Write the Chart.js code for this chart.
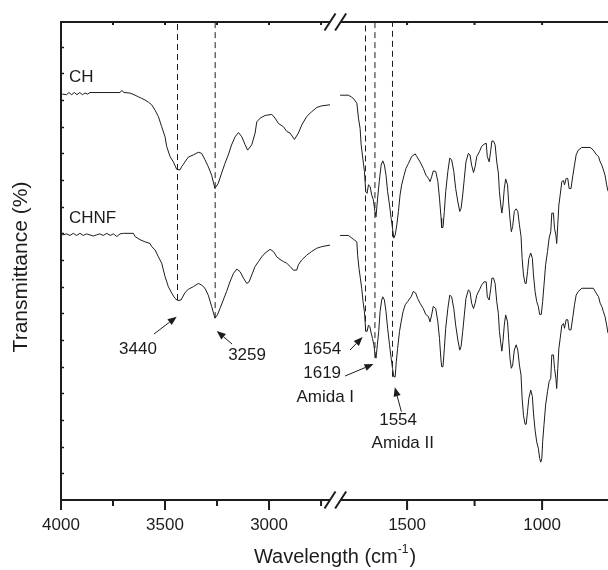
<!DOCTYPE html>
<html lang="pt-br">
<head>
<meta charset="UTF-8">
<title>FTIR - CH e CHNF</title>
<style>
    body { margin: 0; background: #fff; }
    #grafico { display: block; }
</style>
</head>
<body>
<canvas id="grafico" width="608" height="570"></canvas>
<script src="https://cdn.jsdelivr.net/npm/chart.js"></script>
<script>

// ---- Espectro CH (trecho 4000 - 2700 cm-1) ----
const chEsqNumOnda = [3994, 3973, 3962, 3949, 3936, 3923, 3910, 3897, 3885, 3872,
    3861, 3716, 3708, 3697, 3668, 3644, 3628, 3612, 3596, 3580,
    3564, 3548, 3532, 3516, 3500, 3492, 3476, 3460, 3444, 3428,
    3420, 3404, 3388, 3364, 3340, 3324, 3308, 3292, 3276, 3260,
    3244, 3228, 3212, 3196, 3180, 3163, 3147, 3131, 3115, 3103,
    3083, 3067, 3059, 3043, 3019, 2987, 2971, 2955, 2931, 2915,
    2899, 2878, 2859, 2843, 2819, 2795, 2771, 2747, 2707];
const chEsqTransm = [76.1, 76.0, 76.4, 76.0, 76.4, 76.0, 76.4, 76.0, 76.3, 76.1,
    76.4, 76.4, 76.8, 76.4, 76.3, 75.9, 75.6, 75.3, 75.0, 74.6,
    74.1, 73.1, 71.9, 70.0, 68.1, 66.3, 64.4, 63.4, 62.0, 61.9,
    62.5, 63.4, 64.3, 64.7, 65.2, 65.0, 63.8, 62.5, 60.9, 58.4,
    59.4, 61.3, 63.1, 64.7, 66.6, 68.1, 68.9, 68.1, 66.6, 65.6,
    66.6, 68.8, 70.9, 71.6, 72.1, 72.3, 71.6, 70.6, 70.0, 69.1,
    68.8, 67.6, 68.8, 70.3, 71.9, 72.8, 73.6, 73.9, 74.1];

// ---- Espectro CH (trecho 1780 - 756 cm-1) ----
const chDirNumOnda = [1748, 1717, 1707, 1699, 1686, 1680, 1674, 1670, 1664, 1658,
    1653, 1648, 1643, 1637, 1631, 1625, 1619, 1615, 1609, 1603,
    1596, 1590, 1584, 1578, 1572, 1565, 1559, 1553, 1549, 1544,
    1538, 1532, 1526, 1520, 1511, 1504, 1495, 1483, 1470, 1464,
    1452, 1440, 1430, 1421, 1415, 1409, 1403, 1394, 1386, 1380,
    1374, 1372, 1367, 1362, 1357, 1349, 1342, 1335, 1327, 1320,
    1312, 1305, 1300, 1294, 1288, 1282, 1273,
    1267, 1261, 1254, 1248, 1242, 1232, 1224, 1215, 1207, 1203,
    1196, 1190, 1186, 1180, 1174, 1168, 1162, 1158, 1153, 1149,
    1145, 1140, 1135, 1128, 1124, 1119, 1114, 1109, 1103, 1096,
    1090, 1084, 1078, 1074, 1069, 1063, 1059, 1054, 1049, 1042,
    1036, 1032, 1026, 1020, 1014, 1009, 1003, 998, 993, 987,
    980, 974, 968, 964, 958, 954, 949, 946, 942, 938,
    933, 927, 921, 917, 911, 905, 900, 893, 886, 880,
    874, 866, 853, 822, 810, 800, 791, 785, 779, 773,
    767, 761, 756];
const chDirTransm = [75.9, 75.9, 75.6, 75.3, 74.4, 71.6, 69.7, 66.6, 64.1, 61.6,
    57.8, 57.5, 59.1, 58.8, 57.2, 56.3, 54.1, 53.1, 56.6, 59.7,
    62.8, 63.6, 62.8, 60.9, 57.8, 55.3, 52.8, 50.6, 49.1, 49.7,
    51.6, 54.1, 57.2, 59.1, 60.9, 62.2, 63.1, 64.4, 64.9, 64.4,
    63.4, 62.2, 60.9, 60.3, 59.7, 60.6, 61.7, 61.6, 59.7, 56.6,
    52.8, 51.1, 51.1, 54.1, 57.8, 61.6, 64.1, 63.8, 61.6, 58.4,
    55.9, 54.1, 54.7, 57.2, 60.3, 63.4, 65.0,
    64.7, 62.8, 61.4, 62.5, 64.4, 65.3, 66.3, 66.7, 66.9, 64.4,
    63.4, 65.6, 67.3, 67.3, 66.6, 63.4, 61.3, 57.8, 55.3, 53.8,
    55.3, 58.4, 60.2, 59.1, 55.9, 52.8, 50.3, 51.3, 54.1, 54.6,
    54.1, 51.6, 49.4, 45.3, 42.2, 40.6, 40.6, 42.8, 45.3, 46.3,
    45.3, 42.2, 39.1, 37.2, 36.3, 34.8, 34.8, 37.2, 40.3, 44.1,
    46.6, 49.1, 50.3, 53.8, 53.8, 50.9, 49.7, 48.1, 51.6, 55.3,
    57.2, 59.7, 59.9, 59.1, 60.3, 60.3, 58.4, 58.4, 60.9, 62.8,
    64.7, 65.6, 66.1, 66.1, 65.6, 64.8, 64.4, 63.4, 62.8, 61.9,
    60.9, 59.1, 57.9];

// ---- Espectro CHNF (trecho 4000 - 2700 cm-1) ----
const chnfEsqNumOnda = [3994, 3973, 3957, 3941, 3925, 3909, 3893, 3877, 3861, 3845,
    3829, 3813, 3797, 3780, 3764, 3748, 3732, 3716, 3700, 3652,
    3644, 3620, 3596, 3572, 3564, 3548, 3532, 3516, 3500, 3484,
    3468, 3452, 3439, 3423, 3404, 3388, 3364, 3340, 3324, 3308,
    3292, 3276, 3260, 3248, 3236, 3220, 3204, 3188, 3171, 3155,
    3139, 3123, 3107, 3096, 3083, 3067, 3051, 3035, 3019, 2995,
    2979, 2963, 2947, 2931, 2915, 2899, 2883, 2867, 2859, 2843,
    2819, 2795, 2771, 2747, 2707];
const chnfEsqTransm = [49.7, 49.9, 49.6, 50.0, 49.6, 50.0, 49.6, 49.9, 49.7, 49.5,
    49.7, 49.9, 49.6, 50.0, 49.6, 49.9, 49.4, 49.9, 50.0, 50.0,
    49.4, 48.8, 48.4, 48.1, 47.5, 46.9, 45.6, 44.4, 41.9, 40.0,
    38.8, 37.8, 37.4, 37.5, 38.9, 39.5, 40.0, 40.6, 40.3, 39.7,
    38.4, 36.3, 34.1, 34.7, 35.9, 37.5, 39.1, 40.9, 42.5, 43.3,
    42.8, 41.6, 40.6, 40.9, 42.2, 43.8, 44.7, 45.6, 46.3, 47.0,
    46.6, 45.6, 45.1, 44.7, 44.4, 43.8, 43.1, 43.1, 44.1, 45.0,
    45.9, 46.6, 47.2, 47.5, 47.8];

// ---- Espectro CHNF (trecho 1780 - 756 cm-1) ----
const chnfDirNumOnda = [1748, 1717, 1707, 1699, 1686, 1683, 1678, 1673, 1668, 1663,
    1658, 1653, 1648, 1643, 1638, 1633, 1628, 1623, 1619, 1615,
    1610, 1605, 1600, 1594, 1590, 1584, 1578, 1572, 1565, 1559,
    1554, 1549, 1544, 1540, 1535, 1528, 1522, 1515, 1507, 1498,
    1485, 1477, 1468, 1461, 1452, 1440, 1431, 1421, 1415, 1409,
    1403, 1394, 1386, 1380, 1375, 1372, 1367, 1362, 1357, 1349,
    1342, 1335, 1327, 1320, 1312, 1305, 1300, 1294, 1288, 1282,
    1273,
    1267, 1261, 1254, 1248, 1242, 1232, 1224, 1215, 1207, 1203,
    1196, 1190, 1186, 1180, 1174, 1168, 1162, 1158, 1153, 1149,
    1145, 1140, 1135, 1128, 1124, 1119, 1114, 1109, 1103, 1096,
    1090, 1084, 1078, 1074, 1069, 1063, 1059, 1054, 1049, 1042,
    1036, 1032, 1026, 1020, 1014, 1009, 1005, 1001, 998, 993,
    987, 980, 974, 968, 964, 958, 954, 949, 946, 942,
    938, 933, 927, 921, 917, 911, 905, 900, 893, 886,
    880, 874, 866, 853, 810, 800, 791, 785, 779, 773,
    767, 761, 756];
const chnfDirTransm = [49.6, 49.6, 49.2, 48.9, 48.4, 45.9, 43.4, 41.6, 39.7, 37.2,
    35.3, 31.7, 31.6, 32.8, 32.5, 31.3, 30.3, 29.1, 27.5, 26.6,
    29.1, 31.6, 35.3, 37.5, 38.1, 37.5, 35.3, 32.2, 29.1, 26.6,
    24.7, 23.1, 23.1, 25.9, 28.4, 31.6, 33.4, 35.3, 36.6, 37.2,
    38.1, 39.1, 38.8, 37.8, 36.9, 35.9, 34.8, 34.4, 33.4, 34.7,
    36.3, 35.9, 33.4, 30.3, 26.6, 25.0, 25.0, 28.4, 32.2, 35.9,
    38.4, 38.1, 35.9, 32.8, 30.0, 28.1, 28.8, 31.6, 34.7, 37.8,
    39.4,
    39.1, 36.9, 35.9, 36.9, 38.4, 39.4, 40.3, 40.9, 40.9, 38.1,
    37.5, 39.7, 41.6, 41.6, 40.6, 37.2, 35.0, 31.6, 29.4, 27.9,
    29.7, 32.8, 34.7, 33.4, 30.3, 26.6, 24.7, 25.3, 28.1, 29.1,
    28.1, 25.3, 23.4, 19.1, 15.9, 14.2, 14.2, 16.6, 19.1, 20.6,
    19.4, 16.3, 13.1, 10.9, 9.7, 7.8, 7.1, 7.8, 10.9, 14.1,
    17.8, 20.3, 22.2, 22.8, 27.2, 27.2, 24.7, 22.8, 20.9, 24.7,
    28.4, 30.3, 32.8, 33.1, 32.2, 33.8, 33.8, 31.9, 31.9, 34.4,
    36.6, 38.4, 39.1, 39.7, 39.7, 38.8, 38.1, 36.9, 36.3, 35.3,
    34.4, 32.8, 31.3];

// bandas marcadas (linhas tracejadas) e ate onde a linha desce
const picosNumOnda = [3440, 3259, 1654, 1619, 1554];
const picosFundo = [37.5, 34.1, 31.6, 26.6, 23.1];
const nomesAmostras = ['CH', 'CHNF'];

// eixo x
const ticksNumOnda = [4000, 3750, 3500, 3250, 3000, 2750, 1500, 1250, 1000];
const ticksRotulados = [4000, 3500, 3000, 1500, 1000];

// ---- eixo x quebrado: 4000-2700 e 1780-756 cm-1 ----
const INICIO_ESQ = 4000, FIM_ESQ = 2700, ESCALA_ESQ = 0.208;
const INICIO_DIR = 1780, FIM_DIR = 756, ESCALA_DIR = 0.27;
const QUEBRA_ESQ = 2707, QUEBRA_DIR = 1746;
const Y_MAX = 89.625;

function posEixo(wn) {
    if (wn >= 2000) return (INICIO_ESQ - wn) * ESCALA_ESQ;
    return (INICIO_ESQ - FIM_ESQ) * ESCALA_ESQ + (INICIO_DIR - wn) * ESCALA_DIR;
}

function pontos(numOnda, transm) {
    return numOnda.map((wn, i) => ({ x: posEixo(wn), y: transm[i] }));
}

const COR = '#1c1c1c';
const FONTE = '"Liberation Sans", Arial, sans-serif';

function espectro(numOnda, transm) {
    return { data: pontos(numOnda, transm), borderColor: COR, borderWidth: 1, pointRadius: 0, tension: 0 };
}

const conjuntos = [
    espectro(chEsqNumOnda, chEsqTransm),
    espectro(chDirNumOnda, chDirTransm),
    espectro(chnfEsqNumOnda, chnfEsqTransm),
    espectro(chnfDirNumOnda, chnfDirTransm)
];
picosNumOnda.forEach((wn, i) => {
    conjuntos.push({
        data: [{ x: posEixo(wn), y: picosFundo[i] }, { x: posEixo(wn), y: Y_MAX }],
        borderColor: COR, borderWidth: 1, borderDash: [6, 4], pointRadius: 0
    });
});

// setas e rotulos das bandas, em px relativos ao fundo da linha tracejada
const anotacoes = [
    { cauda: [-23.5, 34], ponta: [-0.8, 16.7], texto: [-39.5, 49], alinhar: 'center' },
    { cauda: [16.9, 25.9], ponta: [1.6, 12.9], texto: [31.9, 37.6], alinhar: 'center' },
    { cauda: [-15.4, 18.5], ponta: [-2.9, 5.5], texto: [-24.4, 17.5], alinhar: 'right' },
    { cauda: [-29.9, 17.9], ponta: [-1.4, 5.9], texto: [-33.9, 15.2], alinhar: 'right',
      extra: 'Amida I', posExtra: [-20.9, 38.9] },
    { cauda: [8.9, 34.9], ponta: [2.3, 10.5], texto: [5.6, 43.9], alinhar: 'center',
      extra: 'Amida II', posExtra: [10.3, 66.5] }
];

function seta(ctx, x1, y1, x2, y2) {
    const ang = Math.atan2(y2 - y1, x2 - x1);
    const comp = 9, larg = 3.6;
    const bx = x2 - comp * Math.cos(ang), by = y2 - comp * Math.sin(ang);
    ctx.beginPath();
    ctx.moveTo(x1, y1);
    ctx.lineTo(bx, by);
    ctx.stroke();
    ctx.beginPath();
    ctx.moveTo(x2, y2);
    ctx.lineTo(bx + larg * Math.sin(ang), by - larg * Math.cos(ang));
    ctx.lineTo(bx - larg * Math.sin(ang), by + larg * Math.cos(ang));
    ctx.closePath();
    ctx.fill();
}

const eixosQuebrados = {
    id: 'eixosQuebrados',
    afterDraw(chart) {
        const { ctx, chartArea: area, scales: { x, y } } = chart;
        const px = wn => x.getPixelForValue(posEixo(wn));
        const q1 = px(QUEBRA_ESQ), q2 = px(QUEBRA_DIR);

        ctx.save();
        ctx.strokeStyle = COR;
        ctx.fillStyle = COR;

        // moldura (esquerda, topo e base, com a quebra)
        ctx.lineWidth = 2;
        ctx.beginPath();
        ctx.moveTo(area.left, area.top - 1);
        ctx.lineTo(area.left, area.bottom + 1);
        [area.top, area.bottom].forEach(yy => {
            ctx.moveTo(area.left, yy);
            ctx.lineTo(q1, yy);
            ctx.moveTo(q2, yy);
            ctx.lineTo(area.right, yy);
        });
        ctx.stroke();

        // marcas da quebra "//"
        ctx.beginPath();
        [area.top, area.bottom].forEach(yy => {
            [q1, q2].forEach(q => {
                ctx.moveTo(q - 5.5, yy + 8.5);
                ctx.lineTo(q + 5.5, yy - 8.5);
            });
        });
        ctx.stroke();

        // ticks do eixo x (base para fora, topo para dentro)
        ctx.beginPath();
        ticksNumOnda.forEach(wn => {
            const xx = px(wn);
            const maior = ticksRotulados.includes(wn);
            ctx.moveTo(xx, area.bottom);
            ctx.lineTo(xx, area.bottom + (maior ? 10 : 6));
            ctx.moveTo(xx, area.top);
            ctx.lineTo(xx, area.top + 3);
        });
        ctx.stroke();

        // ticks do eixo y, para dentro, sem rotulos
        ctx.lineWidth = 1.5;
        ctx.beginPath();
        for (let v = 5; v < Y_MAX; v += 5) {
            const yy = Math.round(y.getPixelForValue(v)) + 0.5;
            ctx.moveTo(area.left, yy);
            ctx.lineTo(area.left + 3, yy);
        }
        ctx.stroke();

        // rotulos do eixo x
        ctx.font = '17px ' + FONTE;
        ctx.textAlign = 'center';
        ctx.textBaseline = 'middle';
        ticksRotulados.forEach(wn => ctx.fillText(String(wn), px(wn), 525));

        // titulo do eixo x com sobrescrito
        const principal = 'Wavelength (cm', sobrescrito = '-1', fecha = ')';
        ctx.font = '20px ' + FONTE;
        const w1 = ctx.measureText(principal).width, w3 = ctx.measureText(fecha).width;
        ctx.font = '12px ' + FONTE;
        const w2 = ctx.measureText(sobrescrito).width;
        let xt = (area.left + area.right) / 2 - (w1 + w2 + w3) / 2;
        ctx.textAlign = 'left';
        ctx.textBaseline = 'alphabetic';
        ctx.font = '20px ' + FONTE;
        ctx.fillText(principal, xt, 563);
        ctx.font = '12px ' + FONTE;
        ctx.fillText(sobrescrito, xt + w1, 553);
        ctx.font = '20px ' + FONTE;
        ctx.fillText(fecha, xt + w1 + w2 + 1, 563);

        // titulo do eixo y
        ctx.save();
        ctx.translate(21.5, 267);
        ctx.rotate(-Math.PI / 2);
        ctx.textAlign = 'center';
        ctx.textBaseline = 'middle';
        ctx.font = '21px ' + FONTE;
        ctx.fillText('Transmittance (%)', 0, 0);
        ctx.restore();

        // nomes das amostras acima de cada curva
        ctx.font = '17px ' + FONTE;
        ctx.textAlign = 'left';
        ctx.textBaseline = 'middle';
        [chEsqTransm[0], chnfEsqTransm[0]].forEach((v, i) => {
            ctx.fillText(nomesAmostras[i], area.left + 8, y.getPixelForValue(v) - 17);
        });

        // setas e numeros das bandas
        ctx.lineWidth = 1;
        picosNumOnda.forEach((wn, i) => {
            const bx = px(wn), by = y.getPixelForValue(picosFundo[i]);
            const a = anotacoes[i];
            seta(ctx, bx + a.cauda[0], by + a.cauda[1], bx + a.ponta[0], by + a.ponta[1]);
            ctx.textAlign = a.alinhar;
            ctx.fillText(String(wn), bx + a.texto[0], by + a.texto[1]);
            if (a.extra) {
                ctx.fillText(a.extra, bx + a.posExtra[0], by + a.posExtra[1]);
            }
        });

        ctx.restore();
    }
};

new Chart(document.getElementById('grafico'), {
    type: 'line',
    data: { datasets: conjuntos },
    options: {
        responsive: false,
        animation: false,
        devicePixelRatio: 1,
        layout: { padding: { left: 61, top: 22, right: 0, bottom: 70 } },
        plugins: { legend: { display: false }, tooltip: { enabled: false } },
        scales: {
            x: { type: 'linear', display: false, min: 0, max: posEixo(FIM_DIR) },
            y: { type: 'linear', display: false, min: 0, max: Y_MAX }
        }
    },
    plugins: [eixosQuebrados]
});

</script>
</body>
</html>
